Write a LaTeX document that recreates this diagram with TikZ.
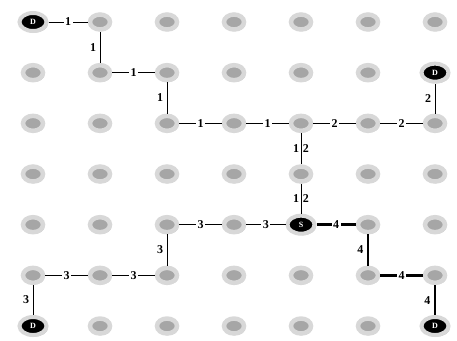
\documentclass[tikz,border=0pt]{standalone}
\usepackage{fontspec}
\setmainfont{Liberation Serif}
\usetikzlibrary{shapes.geometric,shadows}
\definecolor{rimgray}{HTML}{D8D8D8}
\definecolor{coregray}{HTML}{A6A6A6}
% grid cells that hold a sink (D) or the source (S)
\expandafter\def\csname hub00\endcsname{D}
\expandafter\def\csname hub61\endcsname{D}
\expandafter\def\csname hub06\endcsname{D}
\expandafter\def\csname hub66\endcsname{D}
\expandafter\def\csname hub44\endcsname{S}

\begin{document}
\begin{tikzpicture}[x=1pt,y=-1pt,line width=0.9pt,font={\fontsize{12}{14}\selectfont\bfseries},
  cell/.style={ellipse,draw=rimgray,line width=4.5pt,fill=coregray,minimum width=20pt,minimum height=15pt,inner sep=0pt,
    drop shadow={shadow xshift=1.6pt,shadow yshift=-1.6pt,fill=black!22,opacity=1}},
  hub/.style={cell,fill=black,text=white,line width=4pt,minimum width=27pt,minimum height=18pt,font={\fontsize{8}{9}\selectfont\bfseries}},
  lbl/.style={fill=white,inner sep=1.5pt},
  heavy/.style={line width=2.4pt}]
\useasboundingbox (0,0) rectangle (457,340);
% grid
\foreach \c in {0,...,6}{
  \foreach \r in {0,...,6}{
    \ifcsname hub\c\r\endcsname
      \node[hub] (n\c\r) at ({33+67*\c},{22+50.67*\r}) {\csname hub\c\r\endcsname};
    \else
      \node[cell] (n\c\r) at ({33+67*\c},{22+50.67*\r}) {};
    \fi
  }
}
% route 1
\draw (n00) -- node[lbl] {1} (n10);
\draw (n10) -- node[left] {1} (n11);
\draw (n11) -- node[lbl] {1} (n21);
\draw (n21) -- node[left] {1} (n22);
\draw (n22) -- node[lbl] {1} (n32);
\draw (n32) -- node[lbl] {1} (n42);
\draw (n42) -- node[left,inner sep=1.5pt] {1} node[right,inner sep=1.5pt] {2} (n43);
\draw (n43) -- node[left,inner sep=1.5pt] {1} node[right,inner sep=1.5pt] {2} (n44);
% route 2
\draw (n42) -- node[lbl] {2} (n52);
\draw (n52) -- node[lbl] {2} (n62);
\draw (n62) -- node[left] {2} (n61);
% route 3
\draw (n44) -- node[lbl] {3} (n34);
\draw (n34) -- node[lbl] {3} (n24);
\draw (n24) -- node[left] {3} (n25);
\draw (n25) -- node[lbl] {3} (n15);
\draw (n15) -- node[lbl] {3} (n05);
\draw (n05) -- node[left] {3} (n06);
% route 4
\begin{scope}[heavy]
\draw (n44) -- node[lbl] {4} (n54);
\draw (n54) -- node[left] {4} (n55);
\draw (n55) -- node[lbl] {4} (n65);
\draw (n65) -- node[left] {4} (n66);
\end{scope}
\end{tikzpicture}
\end{document}
